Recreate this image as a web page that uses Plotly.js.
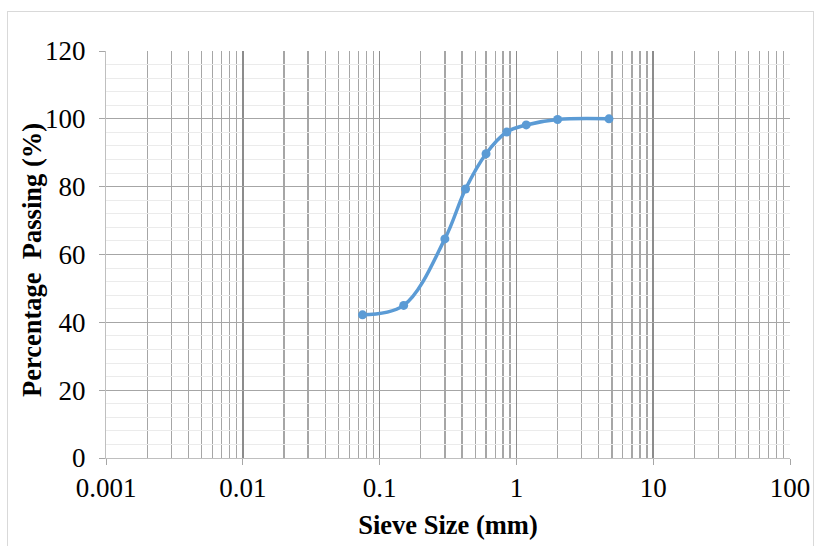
<!DOCTYPE html>
<html>
<head>
<meta charset="utf-8">
<script src="https://cdn.plot.ly/plotly-3.0.1.min.js"></script>
<style>
html,body{margin:0;padding:0;background:#fff;}
#wrap{position:relative;width:814px;height:546px;}
#chart{width:814px;height:546px;}
#frame{position:absolute;left:7px;top:11px;width:805px;height:540px;border:1px solid #d9d9d9;pointer-events:none;}
</style>
</head>
<body>
<div id="wrap"><div id="chart"></div><div id="frame"></div></div>
<script>
const sieveSize = [0.075, 0.15, 0.3, 0.425, 0.6, 0.85, 1.18, 2, 4.75];
const percentPassing = [42.2, 45.0, 64.6, 79.3, 89.7, 96.1, 98.2, 99.8, 100];
const xTickVals = [0.001, 0.01, 0.1, 1, 10, 100];
const xTickText = ['0.001', '0.01', '0.1', '1', '10', '100'];
const xTitle = 'Sieve Size (mm)';
const yTitle = 'Percentage  Passing (%)';

const fontFam = 'Liberation Serif, Times New Roman, serif';
Plotly.newPlot('chart', [{
  x: sieveSize, y: percentPassing, type: 'scatter', mode: 'lines+markers',
  line: {color: '#5B9BD5', width: 3.5, shape: 'spline', smoothing: 1},
  marker: {color: '#5B9BD5', size: 9}
}], {
  width: 814, height: 546,
  margin: {l: 106, r: 24, t: 51, b: 88},
  paper_bgcolor: '#fff', plot_bgcolor: '#fff',
  showlegend: false,
  font: {family: fontFam, color: '#000', size: 27},
  xaxis: {
    type: 'log', range: [-3, 2],
    tickvals: xTickVals, ticktext: xTickText,
    ticks: 'outside', ticklen: 6, tickcolor: '#a6a6a6', tickwidth: 1,
    showgrid: true, gridcolor: '#8c8c8c', gridwidth: 1.5,
    minor: {dtick: 'D1', showgrid: true, gridcolor: '#a6a6a6', gridwidth: 1.3},
    showline: true, linecolor: '#bfbfbf', linewidth: 1,
    zeroline: false,
    title: {text: '<b>' + xTitle + '</b>', font: {family: fontFam, size: 26.5}, standoff: 13},
    tickfont: {family: fontFam, size: 27}
  },
  yaxis: {
    range: [0, 120], dtick: 20, tick0: 0,
    ticks: 'outside', ticklen: 6, tickcolor: '#a6a6a6',
    ticklabelstandoff: 8,
    showgrid: true, gridcolor: '#a6a6a6', gridwidth: 1.3,
    minor: {dtick: 4, showgrid: true, gridcolor: '#ebebeb', gridwidth: 1},
    showline: true, linecolor: '#bfbfbf', linewidth: 1,
    zeroline: false,
    tickfont: {family: fontFam, size: 27}
  },
  annotations: [{
    text: '<b>' + yTitle + '</b>', textangle: -90, showarrow: false,
    xref: 'paper', yref: 'paper', x: -0.1082, y: 0.4865,
    xanchor: 'center', yanchor: 'middle',
    font: {family: fontFam, size: 26.5, color: '#000'}
  }]
}, {displayModeBar: false, staticPlot: true});
</script>
</body>
</html>
